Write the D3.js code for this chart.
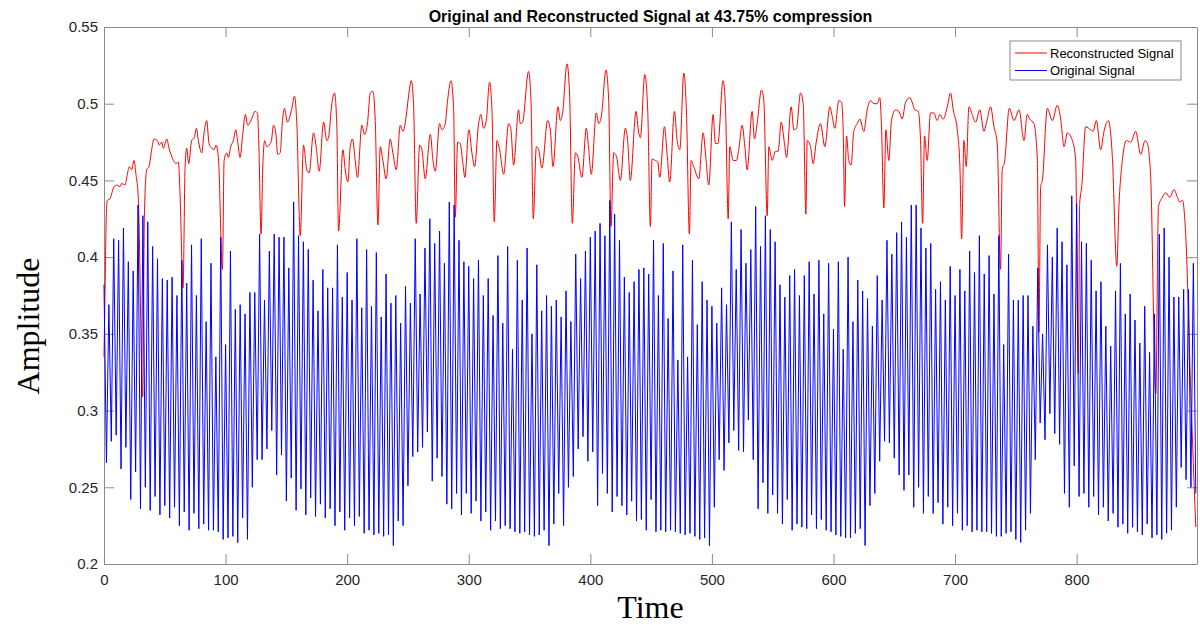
<!DOCTYPE html>
<html>
<head>
<meta charset="utf-8">
<script src="https://cdn.jsdelivr.net/npm/d3@7"></script>
<style>
  body { margin: 0; background: #fff; }
  .tick text { font-family: "Liberation Sans", Arial, sans-serif; font-size: 15px; fill: #262626; }
</style>
</head>
<body>
<div id="viz"></div>
<script>
// reconstructed signal, knots: [time, amplitude]
const reconstructed = [
  [0,0.335],[1,0.385],[2,0.43],[2.7,0.437],[4.9,0.438],[7.7,0.445],[10.4,0.447],[13.2,0.446],[14.5,0.448],[17.3,0.447],
  [19.2,0.454],[20.8,0.459],[22.8,0.457],[24.7,0.463],[26.3,0.454],[28.3,0.437],[31.8,0.309],[33.2,0.426],[35.1,0.457],[37,0.459],
  [39.2,0.47],[41.1,0.477],[43.9,0.476],[45.5,0.473],[47.5,0.475],[48.8,0.471],[51.6,0.477],[53.5,0.471],[55.1,0.467],[57.1,0.463],
  [59.3,0.461],[61.2,0.462],[62.5,0.442],[65,0.38],[66.7,0.459],[68,0.471],[69.7,0.461],[72.1,0.476],[74.3,0.478],[76,0.484],
  [77.6,0.476],[80.4,0.468],[82.3,0.481],[84.5,0.489],[86.4,0.474],[88.6,0.471],[90.5,0.47],[92.2,0.473],[94.1,0.465],[97.4,0.392],
  [98.8,0.463],[101,0.468],[102.3,0.465],[104.2,0.472],[106.4,0.476],[108.4,0.483],[110,0.475],[111.9,0.465],[114.1,0.48],[116.3,0.493],
  [118.2,0.486],[120.2,0.488],[122.4,0.492],[124,0.495],[126.2,0.494],[127.3,0.475],[129.2,0.415],[130.6,0.459],[132.2,0.476],[133.9,0.472],
  [135.8,0.473],[137.7,0.476],[139.4,0.486],[141.3,0.481],[142.9,0.467],[144.9,0.468],[146.8,0.489],[148.4,0.497],[150.9,0.488],[154.5,0.497],
  [156.7,0.505],[158.6,0.487],[161.4,0.414],[164.1,0.473],[166.8,0.457],[168.8,0.455],[172.3,0.481],[174.5,0.472],[177,0.456],[180.6,0.488],
  [183.3,0.476],[184.7,0.478],[187.4,0.5],[189.6,0.507],[191.5,0.485],[192.9,0.417],[196.5,0.47],[198.4,0.457],[200.6,0.449],[202.5,0.472],
  [204.4,0.477],[206.6,0.463],[208.5,0.452],[212.1,0.486],[214.3,0.48],[216.8,0.488],[219,0.507],[221.2,0.508],[223.1,0.489],[225.3,0.421],
  [227.2,0.472],[229.4,0.463],[232.1,0.451],[235.4,0.477],[237.6,0.468],[240.4,0.457],[243.7,0.486],[245.9,0.482],[248.6,0.492],[250.5,0.505],
  [252.7,0.515],[254.6,0.5],[256.8,0.422],[259.6,0.473],[261.5,0.47],[264.2,0.451],[268.4,0.48],[270.6,0.463],[272.5,0.456],[276,0.487],
  [278,0.483],[280.7,0.487],[282.6,0.502],[285.4,0.515],[287.6,0.496],[288.9,0.426],[290.9,0.475],[293,0.474],[295.2,0.461],[296.8,0.452],
  [300.1,0.483],[302.6,0.468],[304.8,0.459],[308.1,0.487],[310,0.493],[312.2,0.484],[314.4,0.489],[317.1,0.514],[319.1,0.496],[321,0.423],
  [323.2,0.476],[325.4,0.47],[328.7,0.454],[332.8,0.487],[334.7,0.483],[336.9,0.46],[341,0.496],[342.4,0.487],[344.3,0.488],[349.2,0.521],
  [351.2,0.502],[353.1,0.425],[355.6,0.472],[357.5,0.47],[360.2,0.458],[364.9,0.489],[367.1,0.483],[369.3,0.459],[373.4,0.498],[375.3,0.489],
  [377.2,0.494],[380.8,0.526],[383,0.505],[385.2,0.422],[387.7,0.468],[389.6,0.466],[393.1,0.452],[396.7,0.484],[398.6,0.471],[400.8,0.454],
  [404.9,0.494],[406.9,0.487],[409.1,0.492],[412.9,0.522],[415.1,0.502],[417,0.42],[419.2,0.468],[421.4,0.466],[424.7,0.45],[428.8,0.484],
  [430.7,0.476],[432.9,0.45],[437.6,0.495],[439.8,0.481],[441.2,0.478],[444.8,0.519],[447.2,0.496],[449.4,0.42],[450.8,0.464],[453.5,0.463],
  [455.5,0.462],[457.1,0.452],[461,0.485],[463.1,0.468],[465.3,0.449],[469.2,0.495],[471.4,0.476],[473.6,0.47],[476.9,0.52],[479.1,0.494],
  [481.5,0.415],[482.9,0.463],[485.1,0.459],[489.2,0.451],[492.8,0.481],[495,0.465],[497.4,0.447],[501,0.493],[502.9,0.474],[504.9,0.474],
  [509.2,0.515],[511.2,0.497],[513.4,0.425],[514.7,0.472],[517.5,0.463],[520.2,0.463],[522.1,0.47],[524.9,0.486],[527.1,0.472],[529,0.457],
  [533.1,0.495],[535,0.477],[537.2,0.487],[540.8,0.509],[542.7,0.502],[545.5,0.427],[546.8,0.472],[549.6,0.463],[552.3,0.469],[554.5,0.469],
  [557,0.488],[559.7,0.474],[561.4,0.465],[565.2,0.498],[567.4,0.483],[569.6,0.484],[572.9,0.507],[575.1,0.5],[577.3,0.428],[578.4,0.476],
  [581.1,0.472],[583.3,0.461],[585.8,0.475],[589.3,0.487],[592.9,0.472],[597,0.498],[598.9,0.492],[601.1,0.484],[604.4,0.502],[606.6,0.501],
  [608,0.482],[609.1,0.433],[610.7,0.479],[612.6,0.463],[614.5,0.46],[616.7,0.482],[619.5,0.487],[621.7,0.49],[625,0.482],[627.7,0.496],
  [630.5,0.502],[633.2,0.5],[635.9,0.5],[638.1,0.504],[639.5,0.485],[641.4,0.432],[643.1,0.483],[645.5,0.463],[647.7,0.489],[651,0.496],
  [653.8,0.495],[656.5,0.49],[659.3,0.501],[662.8,0.504],[664.7,0.501],[666.9,0.496],[669.7,0.495],[671.6,0.476],[673.3,0.422],[674.9,0.479],
  [677.1,0.463],[679.8,0.494],[682.6,0.494],[685.3,0.489],[687.5,0.493],[690.3,0.49],[693.6,0.498],[696.3,0.507],[698.5,0.496],[701.8,0.483],
  [704,0.459],[705.4,0.412],[707.3,0.476],[709.2,0.459],[711.4,0.498],[714.1,0.493],[716.9,0.488],[720.4,0.496],[723.7,0.482],[726.5,0.49],
  [729.2,0.498],[732,0.485],[734.7,0.474],[737.4,0.392],[738.8,0.457],[740.7,0.462],[744.6,0.497],[748.5,0.489],[752.6,0.496],[756.7,0.476],
  [759.4,0.493],[761.4,0.49],[764.9,0.487],[767.7,0.463],[769,0.351],[770.4,0.446],[771.8,0.45],[775.9,0.497],[780,0.489],[784.1,0.499],
  [786.9,0.49],[789.6,0.472],[792.4,0.481],[796.5,0.476],[799.2,0.463],[801.4,0.324],[802.5,0.435],[804.2,0.446],[807.4,0.485],[811.6,0.483],
  [813.5,0.482],[816.2,0.489],[819.8,0.47],[822.5,0.482],[826.1,0.489],[829.4,0.465],[833,0.394],[834.9,0.435],[837.6,0.463],[840.9,0.476],
  [844.5,0.475],[848.6,0.482],[852.7,0.467],[856.3,0.476],[858.2,0.474],[860.9,0.452],[865.1,0.311],[867.3,0.433],[870.5,0.439],[873.3,0.442],
  [876.6,0.439],[880.1,0.444],[882.9,0.439],[884.8,0.436],[887,0.437],[889.7,0.415],[893.9,0.311],[898,0.224]
];

// original signal: one peak and one trough per 4-sample cycle
const originalPeaks = [
  0.382,0.369,0.412,0.411,0.419,0.397,0.391,0.434,0.427,0.423,0.407,0.399,0.386,0.385,0.387,0.375,0.398,0.383,0.408,0.375,
  0.412,0.358,0.396,0.335,0.413,0.343,0.404,0.366,0.369,0.363,0.377,0.377,0.415,0.372,0.404,0.415,0.413,0.413,0.393,0.436,
  0.414,0.410,
  0.405,0.385,0.365,0.392,0.380,0.380,0.408,0.374,0.390,0.372,0.412,0.367,0.405,0.368,0.403,0.361,0.389,0.370,0.375,0.357,
  0.381,0.370,0.412,0.376,0.406,0.425,0.409,0.417,0.396,0.436,0.434,0.411,
  0.397,0.394,0.386,0.398,0.375,0.386,0.362,0.401,0.357,0.407,0.340,0.398,0.372,0.406,0.350,0.395,0.365,0.375,0.368,0.372,
  0.361,0.378,0.358,0.402,0.386,0.404,0.413,0.417,0.422,0.414,0.437,0.428,0.411,0.387,0.377,0.384,0.392,0.393,
  0.389,0.411,0.375,0.409,0.360,0.391,0.333,0.408,0.335,0.398,0.356,0.384,0.372,0.368,0.357,0.380,0.369,0.423,0.392,0.418,
  0.396,0.405,0.433,0.407,0.427,0.418,0.410,0.382,0.374,0.388,0.392,0.375,0.388,0.397,0.376,0.398,0.363,
  0.396,0.353,0.397,0.340,0.400,0.358,0.385,0.378,0.373,0.355,0.388,0.372,0.411,0.402,0.416,0.423,0.413,0.434,0.434,0.419,
  0.406,0.409,0.379,0.384,0.372,0.394,0.375,0.392,0.378,0.404,0.390,0.414,0.389,0.401,0.376,0.414,0.343,0.402,
  0.372,0.372,0.375,0.375,0.355,0.393,0.350,0.408,0.400,0.419,0.410,0.395,0.440,0.435,0.410,0.409,0.398,0.378,0.384,0.355,
  0.342,0.378,0.396,0.363,0.376,0.359,0.344,0.368,0.338,0.363,0.415,0.419,0.400,0.374,0.374,0.379,0.379,0.396
];
const originalTroughs = [
  0.266,0.280,0.284,0.262,0.276,0.242,0.260,0.236,0.250,0.235,0.244,0.232,0.238,0.230,0.237,0.225,0.234,0.222,0.233,0.223,
  0.226,0.222,0.222,0.221,0.216,0.217,0.218,0.214,0.230,0.216,0.250,0.268,0.268,0.275,0.287,0.258,0.271,0.241,0.256,0.235,
  0.249,0.232,
  0.243,0.231,0.239,0.230,0.236,0.225,0.234,0.222,0.230,0.225,0.231,0.220,0.222,0.219,0.220,0.218,0.219,0.212,0.228,0.225,
  0.251,0.270,0.273,0.276,0.286,0.254,0.269,0.257,0.239,0.236,0.246,0.232,
  0.246,0.233,0.241,0.228,0.234,0.222,0.228,0.223,0.225,0.223,0.221,0.220,0.221,0.219,0.218,0.219,0.222,0.212,0.226,0.246,
  0.225,0.250,0.257,0.275,0.283,0.267,0.273,0.238,0.259,0.246,0.234,0.244,0.238,0.232,0.241,0.228,0.229,
  0.222,0.242,0.221,0.222,0.221,0.222,0.221,0.220,0.219,0.220,0.218,0.216,0.217,0.212,0.237,0.268,0.261,0.279,0.287,0.274,
  0.273,0.294,0.268,0.236,0.253,0.233,0.245,0.233,0.226,0.242,0.222,0.226,0.224,0.223,0.232,0.223,0.229,
  0.222,0.221,0.219,0.218,0.217,0.217,0.220,0.223,0.212,0.238,0.246,0.267,0.280,0.279,0.269,0.258,0.248,0.258,0.237,0.250,
  0.233,0.244,0.233,0.240,0.226,0.237,0.225,0.233,0.222,0.225,0.221,0.222,0.221,0.221,0.220,0.218,0.218,0.220,
  0.221,0.216,0.214,0.222,0.233,0.268,0.292,0.281,0.298,0.285,0.278,0.246,0.237,0.264,0.244,0.246,0.237,0.244,0.232,0.237,
  0.228,0.233,0.224,0.226,0.220,0.224,0.221,0.219,0.226,0.217,0.219,0.216,0.220,0.222,0.237,0.263,0.255,0.250,0.246
];

const xTicks = [0, 100, 200, 300, 400, 500, 600, 700, 800];
const yTicks = [0.2, 0.25, 0.3, 0.35, 0.4, 0.45, 0.5, 0.55];
const legendNames = ["Reconstructed Signal", "Original Signal"];
const legendColors = ["#ff0000", "#0000ff"];

width = 1200;
height = 625;
const margin = {top: 27, right: 3, bottom: 61, left: 104};
const axisGrey = "#8a8a8a";

// original samples: peak at 4k, trough at 4k+2
const original = [];
originalPeaks.forEach(function(p, i) {
    original.push([i * 4, p]);
    original.push([i * 4 + 2, originalTroughs[i]]);
});

const svg = d3.select("#viz")
    .append("svg")
    .attr("width", width)
    .attr("height", height);

const x = d3.scaleLinear().domain([0, 899]).range([margin.left, width - margin.right]);
const y = d3.scaleLinear().domain([0.2, 0.55]).range([height - margin.bottom, margin.top]);

const fmtY = d => String(+d.toFixed(2));

// axes, ticks pointing inward on all four sides
svg.append("g")
    .attr("transform", "translate(0," + (height - margin.bottom) + ")")
    .call(d3.axisBottom(x).tickValues(xTicks).tickSize(-10).tickSizeOuter(0).tickPadding(10));
svg.append("g")
    .attr("transform", "translate(0," + margin.top + ")")
    .call(d3.axisTop(x).tickValues(xTicks).tickSize(-10).tickSizeOuter(0).tickFormat(""));
svg.append("g")
    .attr("transform", "translate(" + margin.left + ",0)")
    .call(d3.axisLeft(y).tickValues(yTicks).tickSize(-10).tickSizeOuter(0).tickPadding(6).tickFormat(fmtY));
svg.append("g")
    .attr("transform", "translate(" + (width - margin.right) + ",0)")
    .call(d3.axisRight(y).tickValues(yTicks).tickSize(-10).tickSizeOuter(0).tickFormat(""));

svg.selectAll(".domain, .tick line").attr("stroke", axisGrey);

// lines
const line = d3.line().x(d => x(d[0])).y(d => y(d[1]));

svg.append("path")
    .datum(reconstructed)
    .attr("fill", "none")
    .attr("stroke", legendColors[0])
    .attr("stroke-width", 1)
    .attr("d", line.curve(d3.curveMonotoneX));

svg.append("path")
    .datum(original)
    .attr("fill", "none")
    .attr("stroke", legendColors[1])
    .attr("stroke-width", 1)
    .attr("d", line.curve(d3.curveLinear));

// title and axis labels
svg.append("text")
    .attr("x", (margin.left + width - margin.right) / 2)
    .attr("y", 21.5)
    .attr("text-anchor", "middle")
    .style("font-family", "'Liberation Sans', Arial, sans-serif")
    .style("font-size", "16px")
    .style("font-weight", "bold")
    .attr("fill", "#000")
    .text("Original and Reconstructed Signal at 43.75% compression");

svg.append("text")
    .attr("transform", "translate(39,326) rotate(-90)")
    .attr("text-anchor", "middle")
    .style("font-family", "'Liberation Serif', 'Times New Roman', serif")
    .style("font-size", "32px")
    .attr("fill", "#000")
    .text("Amplitude");

svg.append("text")
    .attr("x", (margin.left + width - margin.right) / 2)
    .attr("y", 618)
    .attr("text-anchor", "middle")
    .style("font-family", "'Liberation Serif', 'Times New Roman', serif")
    .style("font-size", "32px")
    .attr("fill", "#000")
    .text("Time");

// legend
const legend = svg.append("g")
    .attr("transform", "translate(1010,41)");

legend.append("rect")
    .attr("width", 171)
    .attr("height", 39)
    .attr("fill", "#fff")
    .attr("stroke", axisGrey);

legend.selectAll("line")
    .data(legendNames)
    .enter()
    .append("line")
    .attr("x1", 5)
    .attr("x2", 37)
    .attr("y1", (d, i) => 12 + i * 17.5)
    .attr("y2", (d, i) => 12 + i * 17.5)
    .attr("stroke", (d, i) => legendColors[i])
    .attr("stroke-width", 1);

legend.selectAll("text")
    .data(legendNames)
    .enter()
    .append("text")
    .attr("x", 40)
    .attr("y", (d, i) => 16.5 + i * 17.5)
    .style("font-family", "'Liberation Sans', Arial, sans-serif")
    .style("font-size", "13px")
    .attr("fill", "#000")
    .text(d => d);
</script>
</body>
</html>
